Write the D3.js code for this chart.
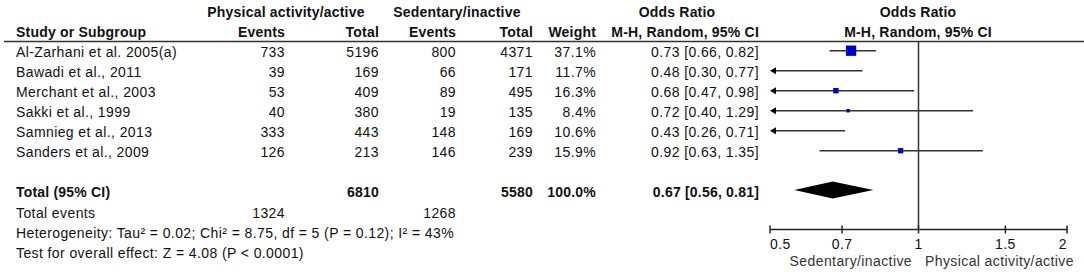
<!DOCTYPE html>
<html>
<head>
<meta charset="utf-8">
<script src="https://cdn.jsdelivr.net/npm/d3@7"></script>
<style>
  body { margin: 0; background: #fff; }
  text { font-family: "Liberation Sans", Arial, sans-serif; font-size: 14px; letter-spacing: 0.4px; fill: #111; }
  .bold { font-weight: bold; letter-spacing: 0.2px; }
</style>
</head>
<body>
<div id="chart"></div>
<script>
const width = 1084
const height = 274

// Datos
const studies = ["Al-Zarhani et al. 2005(a)", "Bawadi et al., 2011", "Merchant et al., 2003", "Sakki et al., 1999", "Samnieg et al., 2013", "Sanders et al., 2009"]
const activeEvents = [733, 39, 53, 40, 333, 126]
const activeTotal = [5196, 169, 409, 380, 443, 213]
const inactiveEvents = [800, 66, 89, 19, 148, 146]
const inactiveTotal = [4371, 171, 495, 135, 169, 239]
const weights = [37.1, 11.7, 16.3, 8.4, 10.6, 15.9]
const oddsRatio = [0.73, 0.48, 0.68, 0.72, 0.43, 0.92]
const ciLow = [0.66, 0.30, 0.47, 0.40, 0.26, 0.63]
const ciHigh = [0.82, 0.77, 0.98, 1.29, 0.71, 1.35]

const pooled = { or: 0.67, lo: 0.56, hi: 0.81 }
const totals = { active: 6810, inactive: 5580, weight: "100.0%", activeEvents: 1324, inactiveEvents: 1268 }
const tickValues = [0.5, 0.7, 1, 1.5, 2]

const data = studies.map((s, i) => ({
  name: s, e1: activeEvents[i], t1: activeTotal[i], e2: inactiveEvents[i], t2: inactiveTotal[i],
  w: weights[i], or: oddsRatio[i], lo: ciLow[i], hi: ciHigh[i]
}))

// Columnas (borde derecho)
const col = { study: 16, e1: 285, t1: 379, e2: 456, t2: 533, w: 596, or: 759 }

const svg = d3.select("div#chart")
  .append("svg")
  .attr("width", width)
  .attr("height", height)

const tableGroup = svg.append("g").attr("id", "tableGroup")
const plotGroup = svg.append("g").attr("id", "plotGroup")

// Escalas
const x = d3.scaleLog().domain([0.5, 2]).range([770, 1067])
const rowY = d3.scalePoint().domain(d3.range(data.length)).range([50.7, 150.7])
const boxSize = d3.scaleLinear().domain([0, 40]).range([1.5, 11])

// Cabecera
function txt(g, x0, y0, t, anchor, cls) {
  return g.append("text").attr("x", x0).attr("y", y0).attr("text-anchor", anchor || "start")
    .attr("class", cls || null).text(t)
}
txt(tableGroup, 286, 17, "Physical activity/active", "middle", "bold")
txt(tableGroup, 457, 17, "Sedentary/inactive", "middle", "bold")
txt(tableGroup, 677, 17, "Odds Ratio", "middle", "bold")
txt(tableGroup, 918, 17, "Odds Ratio", "middle", "bold")
txt(tableGroup, col.study, 37, "Study or Subgroup", "start", "bold")
txt(tableGroup, col.e1, 37, "Events", "end", "bold")
txt(tableGroup, col.t1, 37, "Total", "end", "bold")
txt(tableGroup, col.e2, 37, "Events", "end", "bold")
txt(tableGroup, col.t2, 37, "Total", "end", "bold")
txt(tableGroup, col.w, 37, "Weight", "end", "bold")
txt(tableGroup, col.or, 37, "M-H, Random, 95% CI", "end", "bold")
txt(tableGroup, 918, 37, "M-H, Random, 95% CI", "middle", "bold")

svg.append("line")
  .attr("x1", 4).attr("x2", width).attr("y1", 41.5).attr("y2", 41.5)
  .attr("stroke", "#333").attr("stroke-width", 1.5)

// Filas
const rows = tableGroup.selectAll("g.row").data(data)
  .join("g")
  .attr("class", "row")
  .attr("transform", (d, i) => `translate(0, ${rowY(i) + 6})`)

rows.append("text").attr("x", col.study).text(d => d.name)
rows.append("text").attr("x", col.e1).attr("text-anchor", "end").text(d => d.e1)
rows.append("text").attr("x", col.t1).attr("text-anchor", "end").text(d => d.t1)
rows.append("text").attr("x", col.e2).attr("text-anchor", "end").text(d => d.e2)
rows.append("text").attr("x", col.t2).attr("text-anchor", "end").text(d => d.t2)
rows.append("text").attr("x", col.w).attr("text-anchor", "end").text(d => d.w.toFixed(1) + "%")
rows.append("text").attr("x", col.or).attr("text-anchor", "end")
  .text(d => `${d.or.toFixed(2)} [${d.lo.toFixed(2)}, ${d.hi.toFixed(2)}]`)

// Totales
const fmtCI = (o) => `${o.or.toFixed(2)} [${o.lo.toFixed(2)}, ${o.hi.toFixed(2)}]`
txt(tableGroup, col.study, 197, "Total (95% CI)", "start", "bold")
txt(tableGroup, col.t1, 197, totals.active, "end", "bold")
txt(tableGroup, col.t2, 197, totals.inactive, "end", "bold")
txt(tableGroup, col.w, 197, totals.weight, "end", "bold")
txt(tableGroup, col.or, 197, fmtCI(pooled), "end", "bold")
txt(tableGroup, col.study, 218, "Total events")
txt(tableGroup, col.e1, 218, totals.activeEvents, "end")
txt(tableGroup, col.e2, 218, totals.inactiveEvents, "end")
txt(tableGroup, col.study, 238, "Heterogeneity: Tau² = 0.02; Chi² = 8.75, df = 5 (P = 0.12); I² = 43%")
txt(tableGroup, col.study, 258, "Test for overall effect: Z = 4.08 (P < 0.0001)")

// Forest plot
const [xMin, xMax] = x.domain()
const axisY = 229.5

plotGroup.append("line")
  .attr("x1", x(1)).attr("x2", x(1)).attr("y1", 41).attr("y2", axisY)
  .attr("stroke", "#333").attr("stroke-width", 1.5)

const marks = plotGroup.selectAll("g.mark").data(data)
  .join("g")
  .attr("class", "mark")
  .attr("transform", (d, i) => `translate(0, ${rowY(i)})`)

marks.append("line")
  .attr("x1", d => x(Math.max(d.lo, xMin)) + (d.lo < xMin ? 3 : 0))
  .attr("x2", d => x(Math.min(d.hi, xMax)))
  .attr("stroke", "#333").attr("stroke-width", 1.5)

marks.filter(d => d.lo < xMin).append("path")
  .attr("d", `M${x(xMin)},0 l6,-3.5 l0,7 z`)
  .attr("fill", "#000")

marks.filter(d => d.or >= xMin).append("rect")
  .attr("x", d => x(d.or) - boxSize(d.w) / 2)
  .attr("y", d => -boxSize(d.w) / 2)
  .attr("width", d => boxSize(d.w))
  .attr("height", d => boxSize(d.w))
  .attr("fill", "#0000cc")

// Diamante
plotGroup.append("path")
  .attr("d", `M${x(pooled.lo)},190 L${x(pooled.or)},181.5 L${x(pooled.hi)},190 L${x(pooled.or)},198.5 Z`)
  .attr("fill", "#000")

// Eje
const axisGroup = plotGroup.append("g").attr("transform", `translate(0, ${axisY})`)
axisGroup.append("line").attr("x1", x(xMin)).attr("x2", x(xMax))
  .attr("stroke", "#222").attr("stroke-width", 1.5)
axisGroup.selectAll("line.tick").data(tickValues)
  .join("line")
  .attr("class", "tick")
  .attr("x1", d => x(d)).attr("x2", d => x(d))
  .attr("y1", -4).attr("y2", 4)
  .attr("stroke", "#222").attr("stroke-width", 1.5)
axisGroup.selectAll("text.tick").data(tickValues)
  .join("text")
  .attr("class", "tick")
  .attr("x", d => x(d))
  .attr("y", 19.5)
  .attr("text-anchor", (d, i) => i === 0 ? "start" : i === tickValues.length - 1 ? "end" : "middle")
  .text(d => d)

txt(plotGroup, 912, 266, "Sedentary/inactive", "end").style("fill", "#333")
txt(plotGroup, 925, 266, "Physical activity/active", "start").style("fill", "#333")
</script>
</body>
</html>
